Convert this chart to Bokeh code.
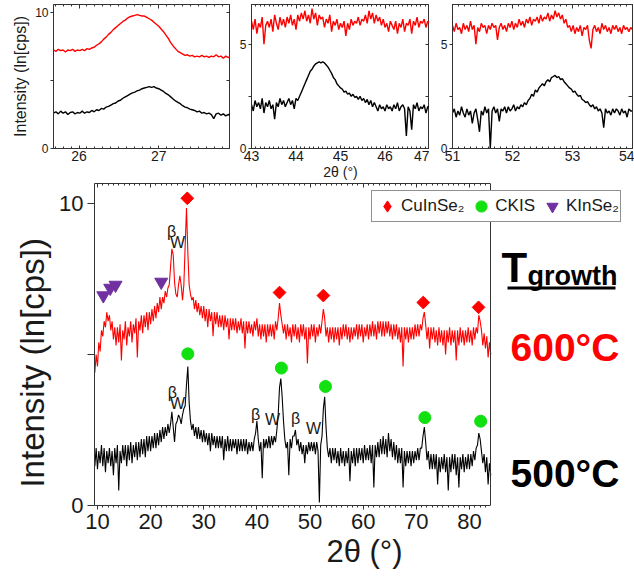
import numpy as np
from bokeh.plotting import figure
from bokeh.layouts import column, row
from bokeh.models import (Range1d, FixedTicker, SingleIntervalTicker, LinearAxis,
                          Label, Legend, LegendItem, BoxAnnotation, Span)
from bokeh.embed import file_html
from bokeh.resources import INLINE

FONT = "Liberation Sans"
AX = "#333333"
TXT = "#1a1a1a"
RED = "#ff0000"
BLACK = "#000000"
GREEN = "#11e011"
PURPLE = "#7030a0"

# ---------------- data ----------------
# main pattern, 2theta from 9.5 to 84.0 deg in 0.25 deg steps
main_range = (9.5, 84.0)
main_600 = [
    4.4, 5.0,
    4.6, 5.4, 5.1, 5.8,  5.6, 6.1, 5.9, 6.4,  6.1, 6.3, 5.8, 6.1,  5.5, 5.9, 5.3, 5.9,
    5.4, 6.0, 4.8, 5.8,  5.5, 6.1, 5.3, 5.9,  5.6, 6.1, 5.4, 6.0,  5.7, 6.2, 4.9, 6.1,
    5.8, 6.3, 5.7, 6.3,  5.9, 6.4, 5.8, 6.4,  6.0, 6.5, 6.1, 6.6,  6.2, 6.7, 6.4, 6.9,
    6.5, 6.9, 6.7, 7.1,  6.9, 7.2, 7.3, 7.9,  8.5, 8.3, 7.4, 7.0,  6.9, 7.3, 7.6, 7.3,
    6.8, 7.3, 8.6, 9.85, 8.4, 7.3, 7.0, 6.8,  6.9, 6.5, 6.8, 6.4,  6.7, 6.3, 6.6, 6.2,
    6.6, 6.1, 6.5, 5.9,  6.5, 6.1, 6.4, 5.6,  6.4, 6.0, 6.4, 5.9,  6.3, 5.9, 6.3, 5.8,
    6.3, 5.9, 6.2, 5.5,  6.2, 5.8, 6.2, 5.8,  6.2, 5.7, 6.1, 5.8,  6.2, 5.7, 6.1, 5.2,
    6.1, 5.7, 6.1, 5.7,  6.0, 5.6, 6.1, 5.8,  6.2, 5.6, 6.0, 5.5,  6.0, 5.6, 6.0, 5.4,
    6.0, 5.6, 6.0, 5.6,  6.0, 5.5, 6.1, 5.8,  6.2, 6.7, 6.3, 6.0,  5.7, 6.0, 5.5, 6.0,
    5.6, 5.9, 5.4, 6.0,  5.6, 6.0, 5.5, 5.9,  5.4, 6.0, 5.6, 6.0,  5.5, 5.9, 4.7, 5.9,
    5.5, 6.0, 5.6, 6.0,  5.4, 5.9, 5.6, 6.0,  5.7, 6.1, 6.5, 6.2,  5.6, 5.9, 5.4, 5.9,
    5.5, 5.9, 5.4, 5.9,  5.5, 5.9, 5.3, 5.9,  5.5, 6.0, 5.6, 6.0,  5.5, 5.9, 5.4, 5.9,
    5.5, 5.9, 5.6, 6.0,  5.5, 6.0, 5.6, 6.0,  5.4, 5.9, 5.6, 6.0,  5.5, 6.0, 5.6, 6.1,
    5.6, 6.0, 5.5, 6.1,  5.7, 6.1, 5.6, 6.1,  5.6, 6.1, 5.7, 6.1,  5.6, 6.0, 5.5, 6.0,
    5.6, 6.0, 5.5, 5.9,  5.4, 5.9, 4.6, 5.9,  5.5, 5.9, 5.4, 5.9,  5.5, 5.9, 5.5, 6.0,
    5.6, 6.0, 5.6, 6.0,  5.8, 6.2, 6.4, 6.0,  5.5, 5.9, 5.2, 5.9,  5.5, 5.9, 5.4, 5.8,
    5.3, 5.9, 5.4, 5.8,  5.3, 5.8, 5.0, 5.8,  5.4, 5.9, 5.3, 5.8,  5.4, 5.8, 4.8, 5.8,
    5.3, 5.9, 5.4, 5.8,  5.3, 5.8, 5.4, 5.9,  5.4, 5.8, 5.3, 5.9,  5.5, 5.9, 5.7, 6.3,
    6.1, 5.8, 5.3, 5.7,  5.2, 5.6, 4.9, 5.4,
    5.0,
]
main_500 = [
    1.3, 1.9,
    1.2, 1.8, 1.4, 2.0,  1.3, 1.9, 1.1, 1.8,  1.4, 1.9, 1.3, 1.8,  1.0, 1.9, 1.4, 2.0,
    0.5, 1.8, 1.4, 2.0,  1.5, 2.0, 1.3, 2.0,  1.5, 2.1, 1.4, 2.0,  1.6, 2.1, 1.5, 2.1,
    1.6, 2.2, 1.7, 2.2,  1.6, 2.3, 1.8, 2.3,  1.8, 2.3, 1.9, 2.4,  1.9, 2.4, 2.0, 2.5,
    2.1, 2.6, 2.2, 2.6,  2.3, 2.7, 2.4, 2.7,  3.1, 2.6, 2.1, 2.7,  2.8, 3.0, 2.9, 2.7,
    3.0, 3.2, 3.3, 4.0,  4.6, 3.4, 2.8, 2.5,  2.7, 2.3, 2.6, 2.2,  2.6, 2.2, 2.5, 2.1,
    2.5, 2.1, 2.4, 2.0,  2.4, 1.8, 2.4, 2.0,  2.3, 1.9, 2.3, 1.9,  2.3, 1.9, 2.3, 1.5,
    2.2, 1.8, 2.3, 1.8,  2.2, 1.8, 2.2, 1.9,  2.2, 1.7, 2.2, 1.8,  2.2, 1.8, 2.2, 1.8,
    2.2, 1.7, 2.1, 1.8,  2.1, 1.8, 2.2, 2.4,  2.8, 2.2, 1.8, 2.1,  0.9, 2.2, 1.9, 2.2,
    1.9, 2.3, 1.9, 2.3,  2.0, 2.3, 2.1, 2.5,  3.0, 3.9, 4.2, 3.6,  2.8, 2.2, 1.9, 2.1,
    1.0, 2.2, 1.9, 2.3,  2.3, 2.5, 2.0, 2.2,  1.8, 2.1, 1.7, 2.0,  1.4, 2.0, 1.7, 2.1,
    1.8, 2.1, 1.8, 2.1,  1.7, 2.1, 1.8, 0.1,  2.0, 2.3, 3.2, 3.6,  2.6, 1.9, 1.6, 1.9,
    1.4, 1.9, 1.5, 1.9,  1.4, 1.8, 1.3, 1.9,  1.4, 1.8, 1.3, 1.8,  1.4, 1.9, 0.8, 1.8,
    1.4, 1.9, 1.3, 1.9,  1.4, 1.9, 1.5, 1.9,  1.4, 2.0, 1.5, 1.9,  1.5, 2.0, 1.4, 2.0,
    0.6, 2.0, 1.6, 2.1,  1.6, 2.2, 1.7, 2.3,  1.7, 2.2, 1.6, 2.4,  1.8, 2.2, 1.6, 2.1,
    1.5, 2.0, 1.4, 1.9,  1.4, 1.9, 0.6, 1.8,  1.3, 1.8, 1.4, 1.8,  1.3, 1.8, 1.4, 1.8,
    1.5, 1.9, 1.5, 1.9,  1.9, 2.3, 2.6, 2.1,  1.5, 1.8, 1.2, 1.7,  1.2, 1.7, 1.2, 1.7,
    0.7, 1.6, 1.1, 1.6,  1.2, 1.7, 1.1, 1.6,  0.5, 1.6, 1.1, 1.7,  1.2, 1.7, 1.0, 1.6,
    0.6, 1.6, 1.2, 1.7,  1.1, 1.6, 1.2, 1.7,  1.2, 1.7, 1.3, 1.8,  1.5, 1.9, 2.0, 2.4,
    2.2, 1.8, 1.4, 1.7,  1.1, 1.6, 0.7, 1.4,
    1.0,
]

# phase markers
cis_pos = [26.9, 44.25, 52.5, 71.3, 81.7]
cis_int = [10.17, 7.05, 6.95, 6.72, 6.56]
ckis_pos = [27.0, 44.6, 52.9, 71.6, 82.1]
ckis_int = [5.02, 4.55, 3.94, 2.91, 2.79]
kis_pos = [11.1, 12.4, 13.4, 22.0]
kis_int = [6.95, 7.2, 7.3, 7.4]

# inset 1: 25.68 - 27.90 deg
inset1_range = (25.68, 27.90)
inset1_600 = [
    7.25, 7.15, 7.3, 7.2, 7.25, 7.1, 7.25, 7.2, 7.3, 7.15, 7.25, 7.2, 7.3, 7.2, 7.35,
    7.3, 7.4, 7.45, 7.6, 7.7, 7.85, 8.05, 8.2, 8.4, 8.55, 8.75, 8.9, 9.05, 9.2, 9.35,
    9.45, 9.6, 9.7, 9.75, 9.8, 9.85, 9.8, 9.75, 9.75, 9.65, 9.55, 9.45, 9.3, 9.15, 9.0,
    8.8, 8.6, 8.35, 8.1, 7.8, 7.55, 7.35, 7.15, 7.05, 6.95, 6.85, 6.9, 6.8, 6.85, 6.75,
    6.8, 6.75, 6.85, 6.75, 6.8, 6.7, 6.8, 6.75, 6.9, 6.75, 6.8, 6.65, 6.8, 6.7, 6.75,
]
inset1_500 = [
    2.6, 2.7, 2.55, 2.75, 2.6, 2.7, 2.5, 2.65, 2.7, 2.55, 2.65, 2.6, 2.75, 2.6, 2.7,
    2.65, 2.8, 2.7, 2.85, 2.8, 2.95, 2.9, 3.05, 3.1, 3.2, 3.3, 3.35, 3.5, 3.55, 3.7,
    3.8, 3.9, 4.0, 4.1, 4.15, 4.25, 4.3, 4.4, 4.45, 4.5, 4.55, 4.5, 4.55, 4.45, 4.4,
    4.3, 4.2, 4.05, 3.95, 3.8, 3.65, 3.5, 3.4, 3.3, 3.15, 3.05, 3.0, 2.9, 2.85, 2.8,
    2.7, 2.75, 2.6, 2.65, 2.55, 2.6, 2.5, 2.2, 2.55, 2.6, 2.45, 2.55, 2.4, 2.5, 2.45,
]

# inset 2: 43.0 - 47.0 deg
inset2_range = (43.0, 47.0)
inset2_600 = [
    6.1, 5.7, 6.2, 5.5, 6.0, 5.8, 6.3, 5.0, 5.9, 6.1,
    5.8, 6.2, 5.6, 6.4, 6.0, 5.7, 6.3, 5.9, 6.2, 5.8,
    6.3, 6.0, 6.4, 5.9, 6.2, 5.7, 6.4, 6.1, 6.5, 6.2,
    6.6, 6.1, 6.4, 6.0, 6.7, 6.2, 6.5, 5.9, 6.4, 6.2,
    6.3, 5.8, 6.2, 6.0, 6.4, 5.6, 6.1, 5.9, 6.2, 5.7,
    6.0, 5.8, 6.1, 5.4, 6.0, 5.7, 6.2, 5.9, 6.1, 6.0,
    6.3, 5.9, 6.2, 6.1, 6.4, 6.0, 6.6, 6.2, 6.5, 6.0,
    6.4, 6.1, 6.3, 5.9, 6.2, 5.8, 6.0, 5.6, 6.1, 5.9,
    5.7, 6.1, 5.5, 6.0, 5.8, 6.2, 5.6, 6.0, 5.9, 6.2,
    5.5, 6.1, 5.9, 6.3, 5.8, 6.1, 6.0, 6.2, 5.8, 6.1,
    6.0,
]
inset2_500 = [
    2.1, 1.8, 2.3, 2.0, 2.2, 1.9, 2.4, 1.7, 2.2, 2.0,
    2.3, 1.9, 2.1, 1.4, 2.2, 2.0, 2.4, 2.1, 2.3, 2.0,
    2.2, 2.4, 2.1, 2.3, 1.9, 2.4, 2.3, 2.5, 2.7, 2.9,
    3.1, 3.3, 3.5, 3.7, 3.8, 3.95, 4.05, 4.1, 4.15, 4.1,
    4.15, 4.1, 4.0, 3.9, 3.75, 3.6, 3.4, 3.3, 3.1, 3.0,
    2.9, 2.85, 2.7, 2.75, 2.6, 2.65, 2.5, 2.6, 2.45, 2.5,
    2.35, 2.5, 2.3, 2.4, 2.2, 2.35, 2.1, 2.3, 2.0, 2.2,
    2.0, 1.8, 2.1, 1.9, 2.0, 1.8, 2.1, 1.9, 2.0, 1.8,
    2.1, 1.9, 2.2, 1.8, 2.0, 2.1, 1.9, 0.6, 2.0, 1.8,
    0.9, 2.1, 1.9, 2.2, 1.8, 2.0, 1.9, 2.1, 1.7, 2.0,
    2.0,
]

# inset 3: 51.0 - 54.0 deg
inset3_range = (51.0, 54.0)
inset3_600 = [
    5.9, 5.6, 6.0, 5.7, 5.8, 5.5, 6.0, 5.7, 5.9, 5.6,
    6.1, 5.7, 5.9, 5.0, 5.8, 5.6, 6.0, 5.8, 5.9, 5.5,
    5.9, 5.7, 6.0, 5.8, 5.9, 5.2, 5.8, 6.0, 5.7, 5.9,
    5.6, 6.0, 5.8, 6.1, 5.7, 6.0, 5.8, 6.2, 5.9, 6.1,
    5.8, 6.2, 6.0, 6.3, 5.9, 6.2, 6.1, 6.3, 6.0, 6.4,
    6.1, 6.3, 6.2, 6.5, 6.1, 6.4, 6.2, 6.6, 6.3, 6.5,
    6.2, 6.4, 6.0, 6.2, 5.8, 5.9, 5.6, 5.9, 5.5, 5.8,
    5.6, 5.9, 5.4, 5.8, 5.7, 5.9, 5.2, 4.8, 5.7, 5.9,
    5.6, 5.8, 5.5, 6.0, 5.7, 5.9, 5.6, 5.8, 5.5, 5.9,
    5.7, 5.9, 5.6, 5.8, 5.5, 5.9, 5.7, 5.8, 5.6, 5.8,
    5.7,
]
inset3_500 = [
    1.7, 1.9, 1.5, 1.8, 1.6, 2.0, 1.7, 1.5, 1.9, 1.6,
    1.8, 1.2, 1.7, 1.9, 1.4, 0.8, 1.8, 1.6, 2.0, 1.7,
    1.9, 0.0, 1.8, 2.0, 1.7, 1.9, 1.3, 1.9, 1.8, 2.0,
    1.7, 2.0, 1.8, 1.9, 2.1, 1.8, 2.0, 1.9, 2.1, 2.0,
    2.2, 2.1, 2.3, 2.4, 2.6, 2.5, 2.8, 2.7, 2.9, 3.0,
    3.1, 3.0, 3.2, 3.3, 3.2, 3.4, 3.45, 3.5, 3.4, 3.45,
    3.3, 3.35, 3.2, 3.1, 3.0, 2.9, 2.85, 2.7, 2.75, 2.6,
    2.5, 2.55, 2.35, 2.3, 2.2, 2.25, 2.1, 2.0, 2.1, 1.9,
    2.0, 1.8, 1.9, 1.7, 1.0, 1.9, 1.7, 1.8, 1.6, 1.9,
    1.7, 1.9, 1.8, 1.6, 1.9, 1.7, 1.8, 1.5, 1.9, 1.8,
    1.8,
]


def grid(rng, vals):
    return np.linspace(rng[0], rng[1], len(vals))


# ---------------- helpers ----------------
def style_axis(ax, label_size, t_out, t_in, m_out, m_in, standoff):
    ax.axis_line_color = AX
    ax.major_tick_line_color = AX
    ax.minor_tick_line_color = AX
    ax.major_tick_out = t_out
    ax.major_tick_in = t_in
    ax.minor_tick_out = m_out
    ax.minor_tick_in = m_in
    ax.major_label_text_font = FONT
    ax.major_label_text_font_size = label_size
    ax.major_label_text_color = TXT
    ax.major_label_standoff = standoff
    ax.axis_label_text_font = FONT
    ax.axis_label_text_font_style = "normal"
    ax.axis_label_text_color = TXT


def hidden_label_axis(ticker, bounds="auto", minor=True):
    ax = LinearAxis(ticker=ticker, bounds=bounds)
    style_axis(ax, "0px", 0, 4, 0, 2 if minor else 0, 0)
    ax.major_label_text_alpha = 0
    return ax


def make_inset(rng, ymax, yticks, yblank, fw, bl, br, s600, s500, ylabel=None, xlabel=None):
    f = figure(frame_width=fw, frame_height=144, min_border_left=bl, min_border_right=br,
               min_border_top=4, min_border_bottom=34,
               x_range=Range1d(rng[0], rng[1]), y_range=Range1d(0, ymax),
               output_backend="svg", toolbar_location=None)
    f.xgrid.visible = False
    f.ygrid.visible = False
    f.outline_line_color = AX
    xt = SingleIntervalTicker(interval=1, num_minor_ticks=10)
    yt = FixedTicker(ticks=yticks, minor_ticks=[])
    xa = f.below[0]
    ya = f.left[0]
    xa.ticker = xt
    ya.ticker = yt
    style_axis(xa, "14px", 0, 3, 0, 2, 2)
    style_axis(ya, "12px", 3, 0, 0, 0, 2)
    ya.major_label_overrides = {yblank: ""}
    if ylabel:
        ya.axis_label = ylabel
        ya.axis_label_text_font_size = "16px"
        ya.axis_label_standoff = 3
    if xlabel:
        xa.axis_label = xlabel
        xa.axis_label_text_font_size = "14px"
        xa.axis_label_standoff = 0
    f.add_layout(hidden_label_axis(xt), "above")
    f.add_layout(hidden_label_axis(yt, minor=False), "right")
    f.line(grid(rng, s600), s600, line_color=RED, line_width=1.4)
    f.line(grid(rng, s500), s500, line_color=BLACK, line_width=1.4)
    return f


i1 = make_inset(inset1_range, 10.6, [0, 5, 10], 5, 177, 53, 0,
                inset1_600, inset1_500, ylabel="Intensity (ln[cps])")
i2 = make_inset(inset2_range, 6.9, [0, 2.5, 5], 2.5, 178, 21, 0,
                inset2_600, inset2_500, xlabel="2θ (°)")
i3 = make_inset(inset3_range, 6.9, [0, 2.5, 5], 2.5, 180, 23, 2,
                inset3_600, inset3_500)

# ---------------- main plot ----------------
# the frame reaches the right edge so that the legend and the side texts stay visible;
# the data box itself ends at 2theta = 83.95 (axis bounds + a vertical span)
X0, X1 = 9.44, 83.95
p = figure(frame_width=540, frame_height=322, min_border_left=94, min_border_right=0,
           min_border_top=1, min_border_bottom=72,
           x_range=Range1d(X0, X0 + (X1 - X0) * 540 / 396), y_range=Range1d(0, 10.66),
           output_backend="svg", toolbar_location=None)
p.xgrid.visible = False
p.ygrid.visible = False
p.outline_line_color = None

mxt = SingleIntervalTicker(interval=10, num_minor_ticks=10)
myt = FixedTicker(ticks=[0, 5, 10], minor_ticks=[])
mxa = p.below[0]
mya = p.left[0]
mxa.ticker = mxt
mxa.bounds = (X0, X1)
mya.ticker = myt
style_axis(mxa, "22px", 4, 0, 2, 0, 4)
style_axis(mya, "22px", 7, 0, 0, 0, 4)
mya.major_label_overrides = {5: ""}
mxa.axis_label = "2θ (°)"
mxa.axis_label_text_font_size = "31px"
mxa.axis_label_standoff = 2
mya.axis_label = "Intensity (ln[cps])\u00a0\u00a0\u00a0\u00a0"
mya.axis_label_text_font_size = "33px"
mya.axis_label_standoff = 5
p.add_layout(hidden_label_axis(mxt, bounds=(X0, X1)), "above")
p.add_layout(Span(location=X1, dimension="height", line_color=AX, line_width=1))

p.line(grid(main_range, main_600), main_600, line_color=RED, line_width=1.1)
p.line(grid(main_range, main_500), main_500, line_color=BLACK, line_width=1.1)

r_cis = p.scatter(cis_pos, cis_int, marker="square", angle=np.pi / 4, size=9,
                  fill_color=RED, line_color=RED)
r_ckis = p.scatter(ckis_pos, ckis_int, marker="circle", size=12,
                   fill_color=GREEN, line_color=GREEN)
r_kis = p.scatter(kis_pos, kis_int, marker="inverted_triangle", size=13,
                  fill_color=PURPLE, line_color=PURPLE)
# legend swatch for the CuInSe2 diamonds (legend glyphs are drawn unrotated,
# so the key uses the diamond marker; size 0 keeps it out of the data area)
r_cis_key = p.scatter(cis_pos, cis_int, marker="diamond", size=0,
                      fill_color=RED, line_color=RED)

# beta / W reflections
for tx, x, y in [("β", 23.93, 9.07), ("W", 25.05, 8.71),
                 ("β", 24.11, 3.74), ("W", 25.05, 3.38),
                 ("β", 39.73, 3.01), ("W", 42.93, 2.85),
                 ("β", 47.26, 2.88), ("W", 50.65, 2.55)]:
    p.add_layout(Label(x=x, y=y, text=tx, text_font=FONT, text_font_size="16px",
                       text_color=TXT, text_align="center", text_baseline="middle"))

legend = Legend(items=[LegendItem(label="CuInSe₂", renderers=[r_cis_key]),
                       LegendItem(label="CKIS", renderers=[r_ckis]),
                       LegendItem(label="KInSe₂", renderers=[r_kis])],
                orientation="horizontal", location=(277, 283),
                glyph_width=28, glyph_height=28, label_standoff=0, spacing=3,
                padding=1, margin=0, border_line_color="#222222", border_line_width=1.5,
                label_text_font=FONT, label_text_font_size="17px",
                label_text_color=TXT, background_fill_alpha=1.0)
p.add_layout(legend)

# growth temperature annotation on the right
p.add_layout(Label(x=407, y=238, x_units="screen", y_units="screen", text="T",
                   text_font=FONT, text_font_size="42px", text_font_style="bold",
                   text_color=BLACK, text_baseline="alphabetic"))
p.add_layout(Label(x=433, y=230, x_units="screen", y_units="screen", text="growth",
                   text_font=FONT, text_font_size="27px", text_font_style="bold",
                   text_color=BLACK, text_baseline="alphabetic"))
p.add_layout(BoxAnnotation(left=413, right=521, bottom=216, top=219,
                           left_units="screen", right_units="screen",
                           bottom_units="screen", top_units="screen",
                           fill_color=BLACK, fill_alpha=1, line_color=None))
p.add_layout(Label(x=416, y=158, x_units="screen", y_units="screen", text="600°C",
                   text_font=FONT, text_font_size="39px", text_font_style="bold",
                   text_color=RED, text_baseline="alphabetic"))
p.add_layout(Label(x=416, y=32, x_units="screen", y_units="screen", text="500°C",
                   text_font=FONT, text_font_size="39px", text_font_style="bold",
                   text_color=BLACK, text_baseline="alphabetic"))

layout = column(row(i1, i2, i3), p)

open("out.html", "w", encoding="utf-8").write(file_html(layout, INLINE))
